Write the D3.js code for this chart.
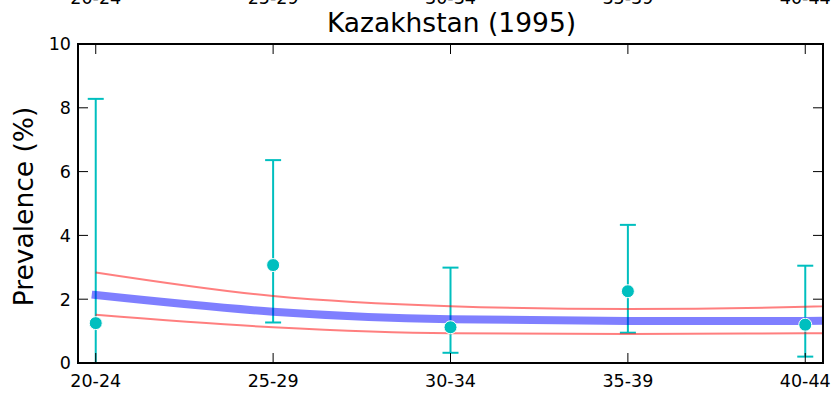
<!DOCTYPE html>
<html>
<head>
<meta charset="utf-8">
<script src="https://d3js.org/d3.v7.min.js"></script>
<style>
  body { margin: 0; background: #fff; }
  text { font-family: "DejaVu Sans", sans-serif; fill: #000; }
</style>
</head>
<body>
<svg id="chart" width="837" height="396"></svg>
<script>
// age groups on the x axis
const ageGroups = ['20-24', '25-29', '30-34', '35-39', '40-44'];
const yTicks = [0, 2, 4, 6, 8, 10];

// observed prevalence with error bars
const observed = [1.25, 3.07, 1.12, 2.25, 1.20];
const obsLow = [0.0, 1.27, 0.32, 0.95, 0.20];
const obsHigh = [8.28, 6.36, 2.99, 4.33, 3.05];

// model fit and its uncertainty band (last value continues past the last group)
const modelMid = [2.13, 1.61, 1.37, 1.32, 1.32, 1.42];
const modelUpper = [2.84, 2.10, 1.78, 1.69, 1.76, 2.30];
const modelLower = [1.51, 1.12, 0.93, 0.91, 0.93, 0.95];

const title = 'Kazakhstan (1995)';
const yLabel = 'Prevalence (%)';

const svg = d3.select('#chart');
const m = { left: 78, right: 823, top: 44, bottom: 363 };

const x = d3.scaleLinear().domain([-0.1, ageGroups.length - 0.9]).range([m.left, m.right]);
const y = d3.scaleLinear().domain([0, 10]).range([m.bottom, m.top]);

svg.append('defs').append('clipPath').attr('id', 'plotclip')
  .append('rect')
  .attr('x', m.left).attr('y', m.top)
  .attr('width', m.right - m.left).attr('height', m.bottom - m.top);

const plot = svg.append('g').attr('clip-path', 'url(#plotclip)');

// error bars
const cyan = '#00bfbf';
observed.forEach((v, i) => {
  const g = plot.append('g').attr('stroke', cyan).attr('stroke-width', 2);
  g.append('line')
    .attr('x1', x(i)).attr('x2', x(i))
    .attr('y1', y(obsLow[i])).attr('y2', y(obsHigh[i]));
  [obsLow[i], obsHigh[i]].forEach(e => {
    g.append('line')
      .attr('x1', x(i) - 8).attr('x2', x(i) + 8)
      .attr('y1', y(e)).attr('y2', y(e));
  });
});

const line = d3.line()
  .x((d, i) => x(i))
  .y(d => y(d))
  .curve(d3.curveMonotoneX);

[modelUpper, modelLower].forEach(arr => {
  plot.append('path')
    .attr('d', line(arr))
    .attr('fill', 'none')
    .attr('stroke', '#ff0000')
    .attr('stroke-opacity', 0.5)
    .attr('stroke-width', 2);
});

plot.append('path')
  .attr('d', line(modelMid))
  .attr('fill', 'none')
  .attr('stroke', '#0000ff')
  .attr('stroke-opacity', 0.5)
  .attr('stroke-width', 8)
  .attr('stroke-linecap', 'square');

plot.selectAll('circle.obs')
  .data(observed)
  .enter().append('circle')
  .attr('class', 'obs')
  .attr('cx', (d, i) => x(i))
  .attr('cy', d => y(d))
  .attr('r', 6.5)
  .attr('fill', cyan)
  .attr('stroke', '#fff')
  .attr('stroke-width', 1);

// ticks (inward)
const tickG = svg.append('g').attr('stroke', '#000').attr('stroke-width', 1);
yTicks.forEach(t => {
  tickG.append('line').attr('x1', m.left).attr('x2', m.left + 10).attr('y1', y(t)).attr('y2', y(t));
  tickG.append('line').attr('x1', m.right - 10).attr('x2', m.right).attr('y1', y(t)).attr('y2', y(t));
});
ageGroups.forEach((a, i) => {
  tickG.append('line').attr('x1', x(i)).attr('x2', x(i)).attr('y1', m.bottom).attr('y2', m.bottom - 10);
  tickG.append('line').attr('x1', x(i)).attr('x2', x(i)).attr('y1', m.top).attr('y2', m.top + 10);
});

// frame
svg.append('rect')
  .attr('x', m.left).attr('y', m.top)
  .attr('width', m.right - m.left).attr('height', m.bottom - m.top)
  .attr('fill', 'none')
  .attr('stroke', '#000')
  .attr('stroke-width', 2);

// tick labels
svg.selectAll('text.ylab')
  .data(yTicks)
  .enter().append('text')
  .attr('x', m.left - 7)
  .attr('y', d => y(d))
  .attr('dy', '0.36em')
  .attr('text-anchor', 'end')
  .style('font-size', '17.5px')
  .text(d => d);

svg.selectAll('text.xlab')
  .data(ageGroups)
  .enter().append('text')
  .attr('x', (d, i) => x(i))
  .attr('y', m.bottom + 24.3)
  .attr('text-anchor', 'middle')
  .style('font-size', '17.5px')
  .text(d => d);

// duplicated labels above, mostly cut off by the page edge (as in the reference)
svg.selectAll('text.xlabtop')
  .data(ageGroups)
  .enter().append('text')
  .attr('x', (d, i) => x(i))
  .attr('y', 3.8)
  .attr('text-anchor', 'middle')
  .style('font-size', '17.5px')
  .text(d => d);

svg.append('text')
  .attr('x', (m.left + m.right) / 2 + 1)
  .attr('y', 31.5)
  .attr('text-anchor', 'middle')
  .style('font-size', '26.5px')
  .text(title);

svg.append('text')
  .attr('transform', `translate(33, ${(m.top + m.bottom) / 2 + 3}) rotate(-90)`)
  .attr('text-anchor', 'middle')
  .style('font-size', '26.5px')
  .text(yLabel);
</script>
</body>
</html>
